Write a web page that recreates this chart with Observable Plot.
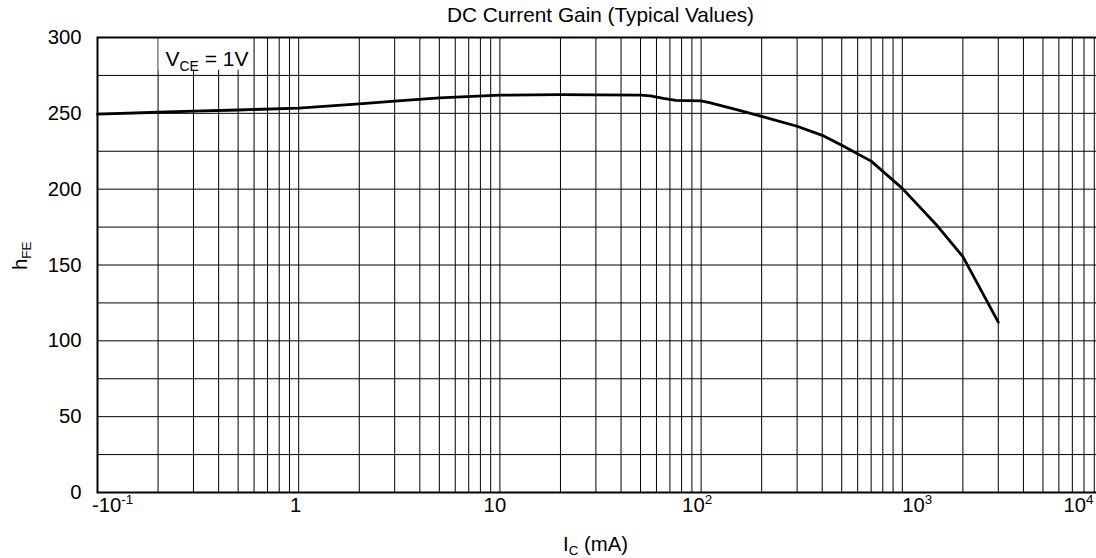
<!DOCTYPE html>
<html><head><meta charset="utf-8">
<script src="https://cdn.jsdelivr.net/npm/d3@7"></script>
<script src="https://cdn.jsdelivr.net/npm/@observablehq/plot@0.6"></script>
<style>
html,body{margin:0;padding:0;background:#fff;}
#chart svg{font-family:"Liberation Sans",Arial,sans-serif;display:block;}
</style></head><body><div id="chart"></div>
<script>
// ---- data ----
const icValues  = [0.1, 0.2, 0.3, 0.5, 1, 2, 3, 5, 10, 20, 30, 50, 56, 65, 75, 85, 100, 110, 150, 200, 300, 400, 500, 700, 1000, 1500, 2000, 3000];
const hfeValues = [249.5, 250.7, 251.4, 252.2, 253.5, 256.3, 258, 260.2, 262, 262.3, 262.2, 262, 261.5, 259.8, 258.6, 258.4, 258.2, 257, 252.5, 248, 241.5, 235.5, 229, 218.5, 200.5, 175.5, 155.5, 112.3];

const xTickValues = [0.1, 1, 10, 100, 1000, 10000];
const xTickLabels = ["-10^{-1}", "1", "10", "10^{2}", "10^{3}", "10^{4}"];
const xTickDx     = [15, -3, -5, -4, 15, -25];
const yTickValues = [0, 50, 100, 150, 200, 250, 300];
const yGridValues = [25, 50, 75, 100, 125, 150, 175, 200, 225, 250, 275];
const decades     = [0.1, 1, 10, 100, 1000];
const multipliers = [1, 2, 3, 4, 5, 6, 7, 8, 9];
const xGridValues = decades.flatMap(d => multipliers.map(m => d * m)).filter(v => v > 0.1);

const titleText = "DC Current Gain (Typical Values)";
const xLabelText = "I_{C} (mA)";
const yLabelText = "h_{FE}";
const noteText = "V_{CE} = 1V";
const noteBoxX = [0.2, 0.6];
const noteBoxY = [277.8, 300];
const notePos = {x: 0.35, y: 285.5};

const data = icValues.map((ic, i) => ({ic, hfe: hfeValues[i]}));

const FS = 20.3;

const plot = Plot.plot({
  width: 1096,
  height: 558,
  marginLeft: 97,
  marginRight: -7,
  marginTop: 37,
  marginBottom: 66,
  x: {type: "log", domain: [0.1, 10000], axis: null},
  y: {domain: [0, 300], axis: null},
  style: {fontFamily: "'Liberation Sans', Arial, sans-serif", background: "#fff", overflow: "hidden"},
  marks: [
    Plot.ruleX(xGridValues, {x: d => d, stroke: "#000", strokeWidth: 1}),
    Plot.ruleY(yGridValues, {y: d => d, stroke: "#000", strokeWidth: 1}),
    Plot.rect([0], {x1: () => noteBoxX[0], x2: () => noteBoxX[1], y1: () => noteBoxY[0], y2: () => noteBoxY[1], fill: "white", stroke: "none", inset: 1}),
    Plot.text([notePos], {x: d => d.x, y: d => d.y, text: () => noteText, fontSize: 21, fill: "#000", lineAnchor: "middle"}),
    Plot.line(data, {x: "ic", y: "hfe", stroke: "#000", strokeWidth: 2.8, strokeLinejoin: "round"}),
    Plot.frame({stroke: "#000", strokeWidth: 2}),
    Plot.text(yTickValues, {y: d => d, frameAnchor: "left", dx: -16, textAnchor: "end", lineAnchor: "middle", text: d => String(d), fontSize: FS, fill: "#000"}),
    ...xTickValues.map((v, i) => Plot.text([v], {x: d => d, frameAnchor: "bottom", lineAnchor: "middle", dy: 13, dx: xTickDx[i], text: () => xTickLabels[i], fontSize: FS, fill: "#000"})),
    Plot.text([titleText], {frameAnchor: "top", lineAnchor: "middle", dy: -22, text: d => d, fontSize: 20.8, fill: "#000"}),
    Plot.text([xLabelText], {frameAnchor: "bottom", lineAnchor: "middle", dy: 52, dx: -5, text: d => d, fontSize: FS, fill: "#000"}),
    Plot.text([yLabelText], {frameAnchor: "left", lineAnchor: "middle", dx: -77, dy: 5, rotate: -90, text: d => d, fontSize: FS, fill: "#000"})
  ]
});

document.getElementById("chart").appendChild(plot);

// convert _{..} and ^{..} markup into real sub/superscript tspans
function richify(svg) {
  svg.querySelectorAll("text").forEach(t => {
    const s = t.textContent;
    if (!/[_^]\{/.test(s)) return;
    const fs = parseFloat(getComputedStyle(t).fontSize);
    t.textContent = "";
    const re = /([_^])\{([^}]*)\}/g;
    let last = 0, m, shift = 0;
    const add = (str, kind) => {
      const ts = document.createElementNS("http://www.w3.org/2000/svg", "tspan");
      ts.textContent = str;
      const target = kind === "sub" ? fs * 0.22 : kind === "sup" ? -fs * 0.4 : 0;
      const dy = target - shift;
      if (dy) ts.setAttribute("dy", dy);
      shift = target;
      if (kind) ts.setAttribute("font-size", fs * 0.66);
      t.appendChild(ts);
    };
    while ((m = re.exec(s))) {
      if (m.index > last) add(s.slice(last, m.index), null);
      add(m[2], m[1] === "_" ? "sub" : "sup");
      last = re.lastIndex;
    }
    if (last < s.length) add(s.slice(last), null);
  });
}
richify(plot);
</script></body></html>
